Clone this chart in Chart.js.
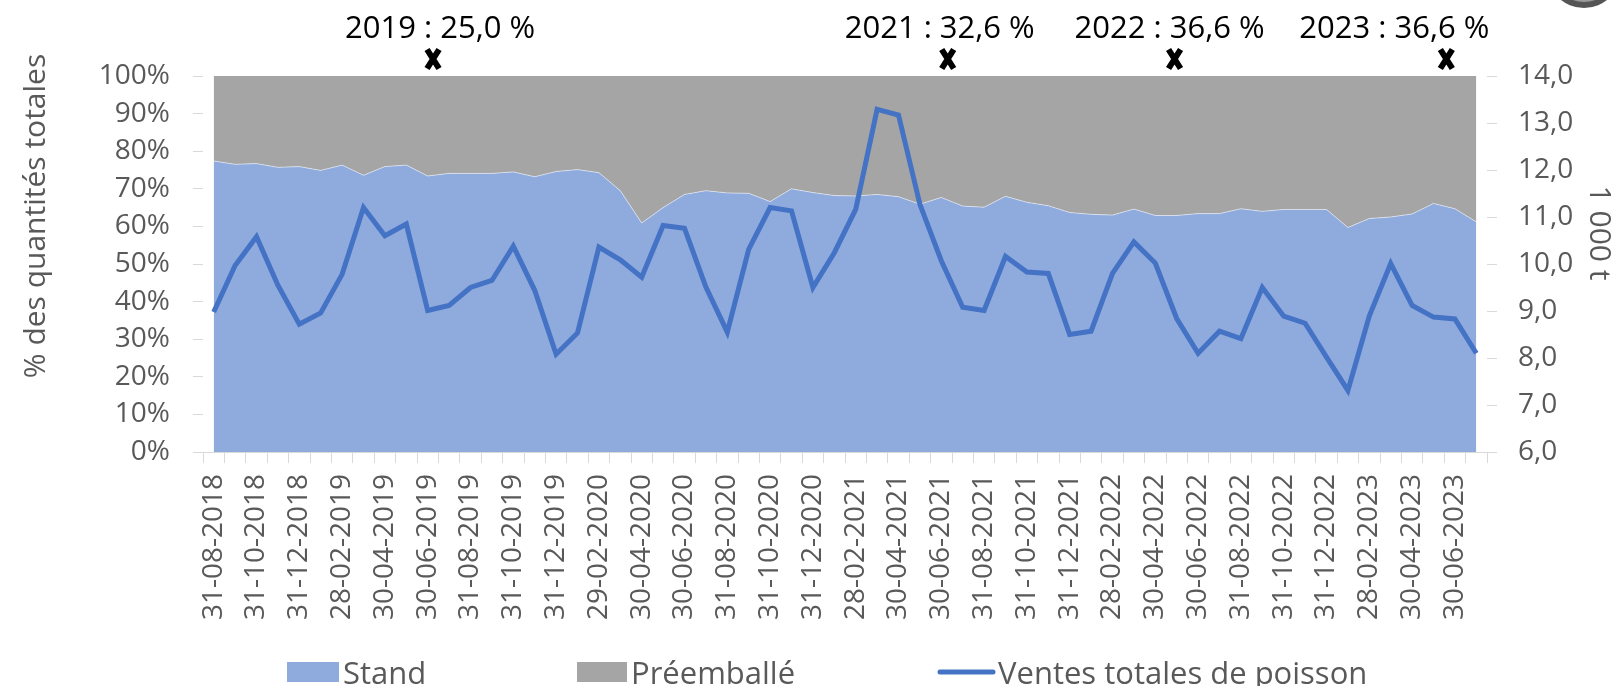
<!DOCTYPE html>
<html>
<head>
<meta charset="utf-8">
<script src="https://cdn.jsdelivr.net/npm/chart.js@4"></script>
<style>
  html, body { margin: 0; padding: 0; background: #fff; }
</style>
</head>
<body>
<canvas id="chart" width="1615" height="686"></canvas>
<script>
// fin de mois, août 2018 -> juillet 2023
const dates = [
    '31-08-2018', '30-09-2018', '31-10-2018', '30-11-2018', '31-12-2018',
    '31-01-2019', '28-02-2019', '31-03-2019', '30-04-2019', '31-05-2019', '30-06-2019',
    '31-07-2019', '31-08-2019', '30-09-2019', '31-10-2019', '30-11-2019', '31-12-2019',
    '31-01-2020', '29-02-2020', '31-03-2020', '30-04-2020', '31-05-2020', '30-06-2020',
    '31-07-2020', '31-08-2020', '30-09-2020', '31-10-2020', '30-11-2020', '31-12-2020',
    '31-01-2021', '28-02-2021', '31-03-2021', '30-04-2021', '31-05-2021', '30-06-2021',
    '31-07-2021', '31-08-2021', '30-09-2021', '31-10-2021', '30-11-2021', '31-12-2021',
    '31-01-2022', '28-02-2022', '31-03-2022', '30-04-2022', '31-05-2022', '30-06-2022',
    '31-07-2022', '31-08-2022', '30-09-2022', '31-10-2022', '30-11-2022', '31-12-2022',
    '31-01-2023', '28-02-2023', '31-03-2023', '30-04-2023', '31-05-2023', '30-06-2023',
    '31-07-2023'
];

// part du rayon stand (%)
const stand = [
    77.4, 76.5, 76.7, 75.7, 75.9,
    74.9, 76.3, 73.6, 75.9, 76.3, 73.4,
    74.1, 74.1, 74.1, 74.5, 73.2, 74.6,
    75.1, 74.3, 69.5, 60.9, 65.0, 68.5,
    69.5, 68.9, 68.8, 66.6, 70.0, 69.0,
    68.2, 68.1, 68.5, 67.9, 65.9, 67.7,
    65.4, 65.1, 68.0, 66.4, 65.5, 63.7,
    63.2, 63.0, 64.6, 62.9, 62.9, 63.4,
    63.4, 64.7, 64.0, 64.5, 64.5, 64.5,
    59.7, 62.1, 62.5, 63.3, 66.1, 64.7,
    61.2
];

// part du préemballé (%)
const preemballe = [
    22.6, 23.5, 23.3, 24.3, 24.1,
    25.1, 23.7, 26.4, 24.1, 23.7, 26.6,
    25.9, 25.9, 25.9, 25.5, 26.8, 25.4,
    24.9, 25.7, 30.5, 39.1, 35.0, 31.5,
    30.5, 31.1, 31.2, 33.4, 30.0, 31.0,
    31.8, 31.9, 31.5, 32.1, 34.1, 32.3,
    34.6, 34.9, 32.0, 33.6, 34.5, 36.3,
    36.8, 37.0, 35.4, 37.1, 37.1, 36.6,
    36.6, 35.3, 36.0, 35.5, 35.5, 35.5,
    40.3, 37.9, 37.5, 36.7, 33.9, 35.3,
    38.8
];

// ventes totales de poisson (1 000 t)
const ventes = [
    8.98, 9.97, 10.58, 9.55, 8.72,
    8.96, 9.78, 11.20, 10.60, 10.85, 9.01,
    9.12, 9.50, 9.65, 10.38, 9.44, 8.08,
    8.53, 10.36, 10.09, 9.72, 10.82, 10.76,
    9.51, 8.55, 10.31, 11.20, 11.13, 9.50,
    10.24, 11.16, 13.29, 13.17, 11.27, 10.07,
    9.08, 9.01, 10.16, 9.83, 9.80, 8.50,
    8.57, 9.80, 10.47, 10.02, 8.84, 8.10,
    8.57, 8.41, 9.50, 8.89, 8.74, 8.02,
    7.31, 8.89, 10.01, 9.12, 8.87, 8.83,
    8.10
];

// repères annuels au-dessus du graphique
const annotTexts = ['2019 : 25,0 %', '2021 : 32,6 %', '2022 : 36,6 %', '2023 : 36,6 %'];
const annotPos = [10.25, 34.3, 44.9, 57.6];
const annotShift = [7, -8, -5, -52];

const leftTitle = '% des quantités totales';
const rightTitle = '1 000 t';

const FONT = '"Open Sans", sans-serif';
const GREY = '#595959';
const BLUE_AREA = '#8FAADC';
const GREY_AREA = '#A5A5A5';
const BLUE_LINE = '#4472C4';

function drawCross(ctx, x, y) {
    ctx.save();
    ctx.strokeStyle = '#000';
    ctx.lineWidth = 6;
    ctx.beginPath();
    ctx.moveTo(x - 6, y - 9.5);
    ctx.lineTo(x + 6, y + 9.5);
    ctx.moveTo(x + 6, y - 9.5);
    ctx.lineTo(x - 6, y + 9.5);
    ctx.stroke();
    ctx.restore();
}

const decor = {
    id: 'decor',
    afterDraw(chart) {
        const ctx = chart.ctx;
        const xs = chart.scales.x;
        ctx.save();

        // annotations
        ctx.font = '31px ' + FONT;
        ctx.fillStyle = '#000';
        ctx.textAlign = 'center';
        ctx.textBaseline = 'middle';
        annotTexts.forEach((t, i) => {
            const px = xs.getPixelForValue(annotPos[i]);
            ctx.fillText(t, px + annotShift[i], 29);
            drawCross(ctx, px, 59);
        });

        // titres des axes
        ctx.fillStyle = GREY;
        ctx.font = '30px ' + FONT;
        ctx.save();
        ctx.translate(36, 216);
        ctx.rotate(-Math.PI / 2);
        ctx.fillText(leftTitle, 0, 0);
        ctx.restore();
        ctx.save();
        ctx.translate(1599, 233);
        ctx.rotate(Math.PI / 2);
        ctx.fillText(rightTitle, 0, 0);
        ctx.restore();

        // légende
        ctx.font = '31px ' + FONT;
        ctx.textAlign = 'left';
        ctx.textBaseline = 'alphabetic';
        ctx.fillStyle = BLUE_AREA;
        ctx.fillRect(287, 662, 52, 20);
        ctx.fillStyle = GREY_AREA;
        ctx.fillRect(577, 662, 50, 20);
        ctx.strokeStyle = BLUE_LINE;
        ctx.lineWidth = 5;
        ctx.lineCap = 'round';
        ctx.beginPath();
        ctx.moveTo(940, 672);
        ctx.lineTo(993, 672);
        ctx.stroke();
        ctx.fillStyle = GREY;
        ctx.fillText(chart.data.datasets[1].label, 343, 684);
        ctx.fillText(chart.data.datasets[2].label, 631, 684);
        ctx.fillText(chart.data.datasets[0].label, 998, 684);

        // logo coupé en haut à droite
        ctx.beginPath();
        ctx.arc(1584, -29, 37, 0, Math.PI * 2);
        ctx.fillStyle = '#555555';
        ctx.fill();
        ctx.beginPath();
        ctx.arc(1584, -31, 33, 0, Math.PI * 2);
        ctx.fillStyle = '#9a9a9a';
        ctx.fill();

        ctx.restore();
    }
};

const tickFont = { family: FONT, size: 28 };

new Chart(document.getElementById('chart'), {
    type: 'line',
    data: {
        labels: dates,
        datasets: [
            {
                label: 'Ventes totales de poisson',
                data: ventes,
                yAxisID: 'y1',
                borderColor: BLUE_LINE,
                borderWidth: 5,
                pointRadius: 0,
                fill: false,
                tension: 0,
                order: 0
            },
            {
                label: 'Stand',
                data: stand,
                yAxisID: 'y',
                backgroundColor: BLUE_AREA,
                borderColor: 'rgba(255,255,255,0.5)',
                borderWidth: 1,
                pointRadius: 0,
                fill: 'origin',
                order: 1
            },
            {
                label: 'Préemballé',
                data: preemballe,
                yAxisID: 'y',
                backgroundColor: GREY_AREA,
                borderColor: GREY_AREA,
                borderWidth: 0,
                pointRadius: 0,
                fill: '-1',
                order: 2
            }
        ]
    },
    options: {
        responsive: false,
        devicePixelRatio: 1,
        animation: false,
        layout: { padding: { top: 76, left: 0, right: 0, bottom: 0 } },
        plugins: {
            legend: { display: false },
            tooltip: { enabled: false }
        },
        scales: {
            x: {
                offset: true,
                grid: { offset: true, drawOnChartArea: false, tickLength: 11, color: '#D9D9D9' },
                border: { color: '#D9D9D9' },
                ticks: {
                    autoSkip: false,
                    minRotation: 90,
                    maxRotation: 90,
                    padding: 11,
                    color: GREY,
                    font: { family: FONT, size: 28 },
                    callback: (v, i) => (i % 2 === 0 ? dates[i] : '')
                },
                afterFit: s => { s.height = 686 - 452; }
            },
            y: {
                position: 'left',
                stacked: true,
                min: 0,
                max: 100,
                grid: { drawOnChartArea: false, tickLength: 10, color: '#D9D9D9' },
                border: { display: false },
                ticks: {
                    stepSize: 10,
                    padding: 23,
                    color: GREY,
                    font: tickFont,
                    callback: v => v + '%'
                },
                afterFit: s => { s.width = 203; }
            },
            y1: {
                position: 'right',
                min: 6,
                max: 14,
                grid: { drawOnChartArea: false, tickLength: 10, color: '#D9D9D9' },
                border: { display: false },
                ticks: {
                    stepSize: 1,
                    padding: 21,
                    color: GREY,
                    font: tickFont,
                    callback: v => v.toFixed(1).replace('.', ',')
                },
                afterFit: s => { s.width = 1615 - 1487; }
            }
        }
    },
    plugins: [decor]
});
</script>
</body>
</html>
